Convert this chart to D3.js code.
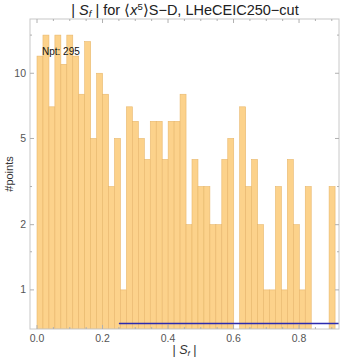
<!DOCTYPE html>
<html>
<head>
<meta charset="utf-8">
<script src="https://cdn.jsdelivr.net/npm/d3@7"></script>
<style>
  body { margin: 0; background: #fff; }
  svg { font-family: "Liberation Sans", Arial, sans-serif; }
</style>
</head>
<body>
<script>
// histogram of |S_f|, bin width ~0.0182, counts
const binWidth = 0.0182
const counts = [12, 15, 7, 15, 11, 15, 12, 8, 14, 5,
                10, 8, 3, 5, 1, 7, 6, 5, 4, 6,
                6, 4, 6, 6, 8, 2, 4, 3, 3, 2,
                2, 4, 5, 0, 7, 3, 4, 2, 1, 1,
                3, 1, 4, 2, 1, 3, 0, 0, 0, 3]
const xTicks = [0, 0.2, 0.4, 0.6, 0.8]
const xMinor = [0.05, 0.1, 0.15, 0.25, 0.3, 0.35, 0.45, 0.5, 0.55, 0.65, 0.7, 0.75, 0.85, 0.9]
const yTicks = [1, 2, 5, 10]
const yMinor = [1.5, 3, 15]
const refLine = { from: 0.25, to: 1.0, y: 0.70 } // blue horizontal line
const npt = 295

const W = 342, H = 360
// plot frame (avoid window.top)
const pL = 30, pR = 339, pT = 19, pB = 329

const svg = d3.select('body').append('svg').attr('width', W).attr('height', H)

const x = d3.scaleLinear().domain([-0.0214, 0.922]).range([pL, pR])
const y = d3.scaleLog().domain([0.66, 17.8]).range([pB, pT])

const bins = counts.map((c, i) => ({ x0: i * binWidth, x1: (i + 1) * binWidth, c }))

svg.append('clipPath').attr('id', 'clip')
  .append('rect').attr('x', pL).attr('y', pT).attr('width', pR - pL).attr('height', pB - pT)

const plot = svg.append('g').attr('clip-path', 'url(#clip)')

// bars
plot.selectAll('rect.bar')
  .data(bins.filter(d => d.c > 0))
  .join('rect')
  .attr('class', 'bar')
  .attr('x', d => x(d.x0))
  .attr('width', d => x(d.x1) - x(d.x0))
  .attr('y', d => y(d.c))
  .attr('height', d => pB - y(d.c))
  .attr('fill', '#fcd28b')
  .attr('stroke', '#e8b76c')
  .attr('stroke-width', 0.6)

// reference line
plot.append('line')
  .attr('x1', x(refLine.from)).attr('x2', x(refLine.to))
  .attr('y1', y(refLine.y)).attr('y2', y(refLine.y))
  .attr('stroke', '#2b2bb0')
  .attr('stroke-width', 1.6)

// frame
svg.append('rect')
  .attr('x', pL).attr('y', pT)
  .attr('width', pR - pL).attr('height', pB - pT)
  .attr('fill', 'none').attr('stroke', '#c8c8c8').attr('stroke-width', 1)

const tickCol = '#b0b0b0'
const labelCol = '#555'

// x ticks (bottom and top, pointing inward)
const xt = svg.append('g')
xTicks.forEach(v => {
  xt.append('line').attr('x1', x(v)).attr('x2', x(v)).attr('y1', pB).attr('y2', pB - 4).attr('stroke', tickCol)
  xt.append('line').attr('x1', x(v)).attr('x2', x(v)).attr('y1', pT).attr('y2', pT + 4).attr('stroke', tickCol)
  xt.append('text').attr('x', x(v)).attr('y', pB + 13)
    .attr('text-anchor', 'middle').attr('font-size', 10.5).attr('fill', labelCol)
    .text(d3.format('.1f')(v))
})
xMinor.forEach(v => {
  xt.append('line').attr('x1', x(v)).attr('x2', x(v)).attr('y1', pB).attr('y2', pB - 2).attr('stroke', tickCol)
  xt.append('line').attr('x1', x(v)).attr('x2', x(v)).attr('y1', pT).attr('y2', pT + 2).attr('stroke', tickCol)
})

// y ticks (left and right)
const yt = svg.append('g')
yTicks.forEach(v => {
  yt.append('line').attr('x1', pL).attr('x2', pL + 4).attr('y1', y(v)).attr('y2', y(v)).attr('stroke', tickCol)
  yt.append('line').attr('x1', pR).attr('x2', pR - 4).attr('y1', y(v)).attr('y2', y(v)).attr('stroke', tickCol)
  yt.append('text').attr('x', pL - 4).attr('y', y(v) + 3.5)
    .attr('text-anchor', 'end').attr('font-size', 10.5).attr('fill', labelCol)
    .text(v)
})
yMinor.forEach(v => {
  yt.append('line').attr('x1', pL).attr('x2', pL + 2).attr('y1', y(v)).attr('y2', y(v)).attr('stroke', tickCol)
  yt.append('line').attr('x1', pR).attr('x2', pR - 2).attr('y1', y(v)).attr('y2', y(v)).attr('stroke', tickCol)
})

// labels
svg.append('text').attr('x', 42).attr('y', 55)
  .attr('font-size', 10).attr('fill', '#111')
  .text(`Npt: ${npt}`)

svg.append('text')
  .attr('transform', `translate(13,${(pT + pB) / 2}) rotate(-90)`)
  .attr('text-anchor', 'middle').attr('font-size', 11).attr('fill', '#333')
  .text('#points')

const xl = svg.append('text').attr('x', (pL + pR) / 2).attr('y', 354)
  .attr('text-anchor', 'middle').attr('font-size', 12.5).attr('fill', '#333')
xl.append('tspan').text('| ')
xl.append('tspan').attr('font-style', 'italic').text('S')
xl.append('tspan').attr('font-style', 'italic').attr('font-size', 8).attr('dy', 2).text('f')
xl.append('tspan').attr('dy', -2).text(' |')

const title = svg.append('text').attr('x', 185).attr('y', 15)
  .attr('text-anchor', 'middle').attr('font-size', 14.5).attr('fill', '#222')
title.append('tspan').text('| ')
title.append('tspan').attr('font-style', 'italic').text('S')
title.append('tspan').attr('font-style', 'italic').attr('font-size', 9.5).attr('dy', 2).text('f')
title.append('tspan').attr('dy', -2).text(' | for \u27E8')
title.append('tspan').attr('font-style', 'italic').text('x')
title.append('tspan').attr('font-size', 9.5).attr('dy', -5).text('5')
title.append('tspan').attr('dy', 5).text('\u27E9S\u2212D, LHeCEIC250\u2212cut')
</script>
</body>
</html>
